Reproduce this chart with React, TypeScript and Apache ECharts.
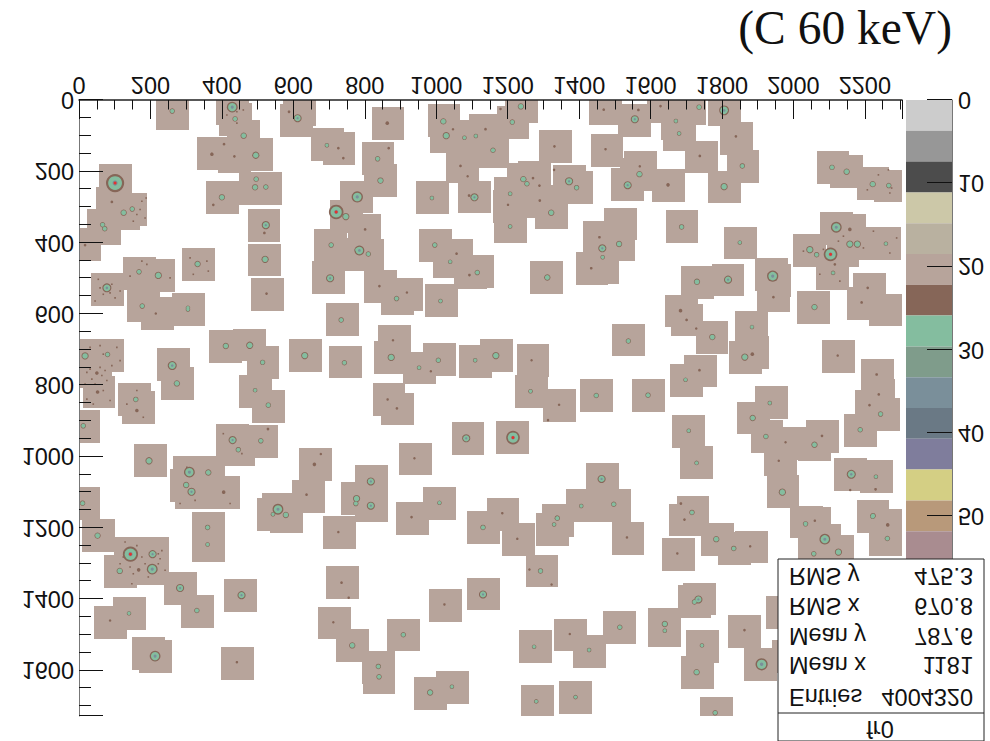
import React, { useEffect, useRef } from "react";
import * as echarts from "echarts";

const xMax = 2304;
const yMax = 1728;
const zMax = 74;
const tileSize = 92;

// Lower corners of the pedestal tiles, in histogram units
const tiles = [
  [216,-9],[384,-21],[392,9],[415,56],[330,105],[390,112],[451,107],[448,202],[476,202],[355,228],[564,11],[572,-19],[650,79],[682,91],
  [55,180],[48,243],[99,261],[79,272],[22,305],[26,314],[-30,359],[34,485],[124,440],[176,447],[134,531],[260,541],[173,552],[288,415],
  [472,305],[474,403],[482,499],[703,281],[731,226],[659,362],[652,452],[692,387],[691,570],
  [819,20],[791,117],[798,180],[754,319],[763,389],[799,477],[871,499],[845,510],[969,517],[976,12],[983,56],[1027,140],[1093,39],[1169,17],
  [1193,-27],[1113,98],[1067,56],[1027,98],[1060,226],[944,228],[1288,84],[1432,96],[1427,-21],[1510,11],[1489,191],[1526,142],[1197,177],
  [1230,172],[1163,217],[1158,252],[1163,308],[1249,238],[1277,270],[1328,182],[1348,200],[952,362],[1011,389],[992,407],[1050,438],[1071,436],
  [1470,302],[1412,340],[1465,359],[1390,427],[1421,424],[1263,451],
  [1589,-28],[1664,-23],[1628,19],[1635,51],[1760,-19],[1795,61],[1696,114],[1813,140],[1760,198],[1604,193],[1515,163],[1642,309],[1806,355],
  [1892,443],[1902,461],[1899,504],[2000,376],[2074,314],[2112,319],[2132,357],[2210,357],[2063,440],[2093,377],[2065,144],[2102,154],[2177,189],
  [2225,195],[1685,465],[1771,459],[1640,546],[1656,571],[2011,537],[2166,484],[2149,524],[2212,543],
  [1493,627],[1726,621],[1837,591],[1820,676],[1841,663],[1695,714],[1654,741],[1549,784],[2081,673],[2189,726],[2172,813],[2193,783],[2207,836],
  [2141,882],[1892,803],[1842,846],[1880,899],[1944,918],[2035,898],[2014,922],[1917,964],[1925,1052],[1661,883],[1683,972],[2115,1004],[2186,1010],
  [2177,1123],[2212,1147],[1673,1111],[1652,1132],[1990,1138],[2014,1143],
  [1741,1186],[1789,1212],[1837,1208],[1633,1229],[2040,1189],[2079,1220],[2012,1203],[2212,1187],[1692,1354],[1678,1361],[1594,1424],[1594,1442],
  [1818,1445],[1700,1486],[1685,1560],[1863,1538],[1923,1392],[1941,1515],[1738,1674],
  [700,689],[587,671],[365,645],[432,641],[469,690],[448,771],[484,813],[218,697],[230,750],[110,795],[120,817],[-58,671],[34,671],[1,717],[10,773],
  [-32,869],[384,910],[400,936],[464,912],[616,977],[596,1066],[153,965],[263,999],[317,999],[254,1036],[269,1056],[358,1056],[-34,1087],
  [837,630],[827,676],[908,706],[964,683],[1064,688],[1123,671],[1225,685],[1221,772],[1300,812],[1403,784],[822,795],[845,821],[1043,903],[1167,900],
  [897,961],[772,1025],[733,1071],[773,1091],[1419,1018],
  [8,1175],[97,1226],[159,1226],[69,1277],[160,1268],[237,1325],[286,1389],[317,1156],[317,1203],[407,1345],[511,1103],[498,1117],[535,1124],[683,1168],
  [691,1307],[669,1421],[720,1485],[43,1419],[95,1395],[149,1507],[168,1514],[398,1534],
  [887,1128],[964,1086],[1086,1153],[1141,1117],[1184,1186],[1250,1275],[1280,1158],[1295,1133],[1362,1091],[1452,1091],[1491,1184],[793,1545],[794,1573],
  [863,1455],[979,1371],[1086,1340],[1231,1488],[1329,1455],[1383,1500],[1468,1433],[938,1618],[999,1601],[1237,1641],[1345,1630],
];

// Hot spots: x, y, estimated peak content
const spots = [
  [261,31,30],[429,20,36],[437,53,30],[461,100,31],[406,124,27],[372,152,28],[435,158,27],[495,155,32],[496,222,30],[493,245,31],[523,244,30],[400,273,31],
  [376,294,27],[588,33,27],[612,51,33],[694,127,29],[726,135,27],[740,163,27],[101,233,60],[92,286,27],[125,316,31],[149,306,30],[66,350,30],[72,361,30],
  [17,407,27],[78,527,34],[168,482,30],[222,492,32],[177,578,30],[305,583,29],[332,460,31],[523,351,33],[519,373,27],[521,447,32],[525,543,27],[720,314,48],
  [747,327,32],[706,407,30],[779,420,30],[703,500,33],
  [863,65,28],[836,165,30],[867,135,27],[844,226,31],[779,272,37],[801,363,27],[785,422,35],[810,432,30],[841,522,27],[889,557,30],[918,540,26],[1012,564,29],
  [1020,60,31],[1028,100,32],[1079,106,29],[1111,101,29],[1138,82,27],[1047,82,26],[1159,141,30],[1068,185,27],[1088,214,26],[1213,62,30],[1237,18,31],
  [1180,25,26],[1092,268,27],[1107,273,33],[988,275,29],[1331,130,27],[1244,222,31],[1254,235,30],[1271,219,27],[1289,240,27],[1207,263,29],[1201,294,26],
  [1290,282,27],[1322,316,31],[1207,355,29],[1372,228,33],[1393,246,30],[1330,196,26],[996,407,30],[1039,454,29],[1057,431,27],[1093,491,27],[1115,484,30],
  [1457,385,27],[1465,416,33],[1512,404,31],[1466,441,29],[1434,472,27],[1311,498,31],[1474,138,26],[1469,27,27],[1556,54,33],[1566,28,27],[1536,239,33],
  [1569,208,31],[1570,186,26],
  [1628,17,27],[1736,20,30],[1806,29,35],[1671,59,29],[1680,94,29],[1839,102,27],[1738,157,27],[1857,185,30],[1649,238,28],[1806,243,32],[1687,356,30],
  [1850,400,29],[2108,189,30],[2149,201,31],[2222,236,31],[2267,240,30],[1730,510,31],[1817,504,33],[1942,494,37],[1944,553,27],[2120,357,36],[2158,363,28],
  [2046,420,32],[2065,434,30],[2104,433,45],[2158,404,32],[2179,404,32],[2259,403,29],[2116,461,27],[2111,485,29],[2059,581,31],[2208,527,27],[2191,568,27],
  [1684,591,28],[1701,617,27],[1728,641,26],[1773,665,31],[1884,637,29],[1864,721,32],[1885,713,28],[1737,758,27],[1698,785,29],[1593,828,30],[1538,676,30],
  [2124,717,26],[2233,770,27],[2239,826,27],[2213,856,27],[2244,881,30],[2187,925,30],[1934,850,29],[1886,892,31],[1923,944,30],[1978,960,26],[2080,942,27],
  [2059,967,31],[1959,1012,25],[1969,1100,32],[1707,928,29],[1729,1018,29],[2162,1050,34],[2231,1057,29],[2230,1092,27],[2159,1094,26],[1685,1132,27],
  [1716,1157,30],[2223,1166,30],
  [215,599,26],[305,588,29],[734,617,30],[411,690,31],[478,688,32],[514,736,30],[632,717,32],[743,737,30],[17,718,32],[80,714,30],[50,766,28],[52,819,28],
  [261,745,34],[274,795,31],[159,840,30],[162,871,28],[12,914,30],[493,814,29],[530,856,30],[430,954,33],[446,981,30],[509,956,30],[529,923,27],[196,1012,32],
  [309,1044,36],[362,1045,31],[300,1080,31],[315,1099,33],[405,1100,28],[677,993,26],[659,1022,28],[637,1107,27],[557,1148,36],[579,1164,31],[543,1162,29],
  [10,1131,30],[777,1118,32],[775,1132,30],
  [879,674,26],[874,722,32],[952,751,29],[1006,730,30],[985,761,25],[1109,730,29],[1167,717,32],[1267,730,26],[1264,817,29],[1344,855,25],[1313,898,26],
  [1448,829,30],[864,840,25],[890,865,27],[1084,949,33],[1215,947,45],[939,1005,25],[817,1070,33],[817,1138,33],[1009,1130,29],[931,1170,27],[1185,1159,26],
  [1463,1063,33],[1406,1139,29],[1497,1134,30],[1338,1171,28],
  [52,1222,31],[144,1274,50],[206,1274,33],[205,1316,36],[114,1321,31],[167,1318,28],[283,1369,33],[330,1432,30],[360,1199,30],[360,1247,29],[455,1389,33],
  [140,1440,29],[87,1460,25],[213,1560,36],[442,1577,26],[735,1354,27],[755,1396,25],[726,1212,25],[712,1465,26],[765,1530,31],
  [1131,1199,30],[1227,1231,26],[1292,1321,30],[1261,1317,25],[1323,1359,26],[1330,1191,29],[1339,1173,30],[1534,1227,26],[1131,1387,33],[1023,1415,25],
  [908,1500,30],[838,1589,30],[840,1618,30],[983,1662,31],[1044,1646,29],[1274,1534,29],[1374,1498,26],[1428,1543,29],[1514,1479,30],[1280,1687,29],[1390,1675,29],
  [1695,1177,27],[1784,1232,31],[1833,1258,30],[1879,1252,25],[1675,1272,25],[2034,1189,30],[2060,1180,26],[2088,1232,36],[2057,1273,30],[2126,1268,32],
  [2264,1192,28],[2263,1230,30],[2222,1168,30],[1734,1401,33],[1723,1408,30],[1640,1470,31],[1640,1489,29],[1863,1487,27],[1744,1530,29],[1729,1605,31],
  [1911,1583,40],[1781,1719,30],
];

// Isolated low hits scattered around the brightest spots
const speckles = [
  [129,1240],[162,1250],[124,1282],[176,1282],[222,1273],[227,1287],[143,1310],[185,1301],[241,1319],[152,1329],[222,1301],[148,1357],[194,1338],[115,1301],[232,1264],
  [31,694],[59,689],[106,694],[115,731],[92,745],[68,713],[22,764],[36,783],[64,773],[78,787],[31,755],[45,797],[68,815],[22,839],[87,843],[40,853],[59,750],[73,759],[17,797],
  [54,503],[92,517],[68,545],[101,555],[45,564],[115,536],[87,541],[59,527],[143,494],[190,461],[255,499],[176,452],
  [176,284],[162,321],[185,331],[152,340],[171,307],[188,275],[442,33],[460,28],[414,42],[442,65],[358,452],[311,443],[362,480],[320,489],
  [2140,382],[2196,415],[2224,368],[2289,387],[2084,419],[2028,424],[2126,396],[2270,429],[2238,210],[2266,196],[2270,261],[2207,252],[2275,247],[2130,508],[2074,489],
  [162,815],[134,853],[180,890],[404,936],[456,992],[302,1030],[325,1123],[283,1132],[423,1132],
];

const paletteLevels = [0,1,2,3,4,5,6,7,8,9,10,11,12,13,14,15];
const palette = ["#cccccc","#979797","#4c4c4c","#ccc8a8","#b9b1a0","#b7a49b","#866658","#84bd9f","#7f9c8b","#7a8f9a","#6a7985","#7f7d9c","#d4cf84","#b8997a","#a98c90","#a98c90"];
const bandWidth = 3.7;

const statNames = ["Entries", "Mean x", "Mean y", "RMS x", "RMS y"];
const statValues = ["4004320", "1181", "787.6", "670.8", "475.3"];
const statTitle = "fr0";
const titleText = "(C 60 keV)";

const W = 990, H = 741;
const sans = "'Liberation Sans', Arial, sans-serif";
const fy = (p: number) => H - p; // page row to chart row (the chart is mirrored vertically)

function haloSize(p: number) {
  return p <= 36 ? Math.max(2.5, (p - 24) * 0.9) : 11 + (p - 36) * 0.3;
}

export default function App() {
  const ref = useRef<HTMLDivElement>(null);
  useEffect(() => {
    document.body.style.margin = "0";
    const chart = echarts.init(ref.current!, undefined, { renderer: "svg" });

    const statRows = [697, 665, 636, 606, 576];
    const graphicEls: any[] = [
      { type: "rect", z: 100, shape: { x: 778, y: fy(741), width: 206, height: 182 }, style: { fill: "#fff", stroke: "#222", lineWidth: 1 } },
      { type: "line", z: 101, shape: { x1: 778, y1: fy(713), x2: 984, y2: fy(713) }, style: { stroke: "#222", lineWidth: 1 } },
      { type: "text", z: 101, x: 880, y: fy(729), style: { text: statTitle, font: `23.5px ${sans}`, fill: "#111", align: "center", verticalAlign: "middle" } },
      ...statNames.map((n, i) => ({ type: "text", z: 101, x: 789, y: fy(statRows[i]), style: { text: n, font: `23.5px ${sans}`, fill: "#111", align: "left", verticalAlign: "middle" } })),
      ...statValues.map((n, i) => ({ type: "text", z: 101, x: 973, y: fy(statRows[i]), style: { text: n, font: `23.5px ${sans}`, fill: "#111", align: "right", verticalAlign: "middle" } })),
      { type: "text", z: 101, x: 952, y: fy(28), scaleY: -1, style: { text: titleText, font: `47.5px 'Liberation Serif', 'Times New Roman', serif`, fill: "#111", align: "right", verticalAlign: "middle" } },
    ];

    const labelStyle = { color: "#111", fontFamily: sans, fontSize: 23.5 };
    const plainLabel = (v: number) => String(v);

    chart.setOption({
      animation: false,
      backgroundColor: "#fff",
      tooltip: { show: false },
      grid: [
        { left: 79, right: W - 902, top: 25, bottom: 100, show: false },
        { left: 906, width: 46, top: 25, bottom: 100, show: false },
      ],
      xAxis: [
        {
          type: "value", gridIndex: 0, min: 0, max: xMax, interval: 200, z: 5,
          axisLine: { show: true, onZero: false, lineStyle: { color: "#222", width: 1.5 } },
          axisTick: { show: true, inside: true, length: 19, lineStyle: { color: "#111", width: 1 } },
          minorTick: { show: true, splitNumber: 4, length: 9.5, lineStyle: { color: "#111", width: 1 } },
          axisLabel: { ...labelStyle, margin: 3, showMaxLabel: false, hideOverlap: false, formatter: plainLabel },
          splitLine: { show: false },
        },
        { type: "value", gridIndex: 1, min: 0, max: 1, show: false },
      ],
      yAxis: [
        {
          type: "value", gridIndex: 0, min: 0, max: yMax, interval: 200, z: 5,
          axisLine: { show: true, onZero: false, lineStyle: { color: "#777", width: 1 } },
          axisTick: { show: true, inside: true, length: 24, lineStyle: { color: "#111", width: 1 } },
          minorTick: { show: true, splitNumber: 4, length: 12, lineStyle: { color: "#111", width: 1 } },
          axisLabel: { ...labelStyle, margin: 5, showMaxLabel: false, hideOverlap: false, formatter: plainLabel },
          splitLine: { show: false },
        },
        {
          type: "value", gridIndex: 1, position: "right", min: 0, max: zMax, interval: 10, z: 5,
          axisLine: { show: true, onZero: false, lineStyle: { color: "#777", width: 1 } },
          axisTick: { show: true, inside: true, length: 25, lineStyle: { color: "#111", width: 1 } },
          axisLabel: { ...labelStyle, margin: 6, showMaxLabel: false, hideOverlap: false, formatter: (v: number) => (v <= 50 ? String(v) : "") },
          splitLine: { show: false },
        },
      ],
      graphic: { elements: graphicEls },
      series: [
        {
          type: "custom", xAxisIndex: 0, yAxisIndex: 0, silent: true, z: 2,
          data: tiles,
          encode: { x: 0, y: 1 },
          renderItem: (params: any, api: any) => {
            const a = api.coord([api.value(0), api.value(1)]);
            const b = api.coord([api.value(0) + tileSize, api.value(1) + tileSize]);
            const rect = echarts.graphic.clipRectByRect(
              { x: a[0], y: b[1], width: b[0] - a[0], height: a[1] - b[1] },
              { x: params.coordSys.x, y: params.coordSys.y, width: params.coordSys.width, height: params.coordSys.height }
            );
            if (!rect) return null;
            const x = Math.round(rect.x), y = Math.round(rect.y);
            const shape = { x, y, width: Math.round(rect.x + rect.width) - x, height: Math.round(rect.y + rect.height) - y };
            return { type: "rect", shape, style: { fill: palette[5], stroke: "none" } };
          },
        },
        {
          type: "scatter", xAxisIndex: 0, yAxisIndex: 0, silent: true, z: 3, symbol: "rect",
          data: speckles, symbolSize: 1.6, itemStyle: { color: palette[6], opacity: 1 },
        },
        {
          type: "scatter", xAxisIndex: 0, yAxisIndex: 0, silent: true, z: 3, symbol: "circle",
          data: spots, symbolSize: (v: number[]) => haloSize(v[2]), itemStyle: { color: palette[6], opacity: 1 },
        },
        {
          type: "scatter", xAxisIndex: 0, yAxisIndex: 0, silent: true, z: 4, symbol: "circle",
          data: spots.filter((s) => s[2] >= 29), symbolSize: (v: number[]) => haloSize(v[2]) * 0.76, itemStyle: { color: palette[7], opacity: 1 },
        },
        {
          type: "scatter", xAxisIndex: 0, yAxisIndex: 0, silent: true, z: 4, symbol: "circle",
          data: spots.filter((s) => s[2] >= 33), symbolSize: (v: number[]) => haloSize(v[2]) * 0.28, itemStyle: { color: palette[9], opacity: 1 },
        },
        {
          type: "scatter", xAxisIndex: 0, yAxisIndex: 0, silent: true, z: 4, symbol: "circle",
          data: spots.filter((s) => s[2] >= 45), symbolSize: 3, itemStyle: { color: "#e5322d", opacity: 1 },
        },
        {
          type: "custom", xAxisIndex: 1, yAxisIndex: 1, silent: true, z: 2,
          data: paletteLevels.map((l) => [l]),
          encode: { y: 0 },
          renderItem: (_p: any, api: any) => {
            const level = api.value(0);
            const a = api.coord([0, level * bandWidth]);
            const b = api.coord([1, (level + 1) * bandWidth]);
            return { type: "rect", shape: { x: a[0], y: b[1], width: b[0] - a[0], height: a[1] - b[1] }, style: { fill: palette[level], stroke: "none" } };
          },
        },
      ],
    });
    return () => chart.dispose();
  }, []);
  return <div ref={ref} style={{ width: W, height: H, transform: "scaleY(-1)" }} />;
}
